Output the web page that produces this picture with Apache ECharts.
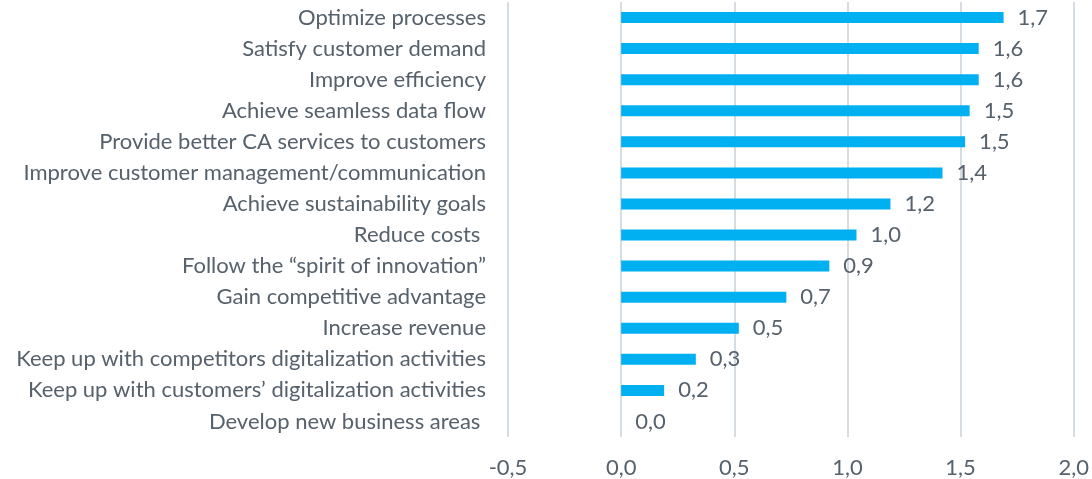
<!DOCTYPE html>
<html style="height: 100%">
<head>
<meta charset="utf-8">
<title>Reasons for digitalization</title>
</head>
<body style="height: 100%; width: 100%; margin: 0">
<div id="container" style="height: 479px; width: 1092px"></div>
<script type="text/javascript" src="https://cdn.jsdelivr.net/npm/echarts@6/dist/echarts.min.js"></script>
<script type="text/javascript">
var categories = [
    'Optimize processes',
    'Satisfy customer demand',
    'Improve efficiency',
    'Achieve seamless data flow',
    'Provide better CA services to customers',
    'Improve customer management/communication',
    'Achieve sustainability goals',
    'Reduce costs ',
    'Follow the \u201cspirit of innovation\u201d',
    'Gain competitive advantage',
    'Increase revenue',
    'Keep up with competitors digitalization activities',
    'Keep up with customers\u2019 digitalization activities',
    'Develop new business areas '
];
var scores = [1.69, 1.58, 1.58, 1.54, 1.52, 1.42, 1.19, 1.04, 0.92, 0.73, 0.52, 0.33, 0.19, 0.0];
var axisMin = -0.5, axisMax = 2.0, axisStep = 0.5;

function comma(v) {
    return Number(v).toFixed(1).replace('.', ',');
}

var textColor = '#56616b';
var font = 'Lato';

var chart = echarts.init(document.getElementById('container'));
var option = {
    animation: false,
    grid: { left: 508, right: 11, top: 2, bottom: 42, containLabel: false },
    xAxis: {
        type: 'value',
        min: axisMin,
        max: axisMax,
        interval: axisStep,
        axisLine: { show: false },
        axisTick: { show: false },
        splitLine: { lineStyle: { color: '#d5dde3', width: 2 } },
        axisLabel: {
            formatter: comma,
            color: textColor,
            fontFamily: font,
            fontSize: 22,
            margin: 20
        }
    },
    yAxis: {
        type: 'category',
        data: categories,
        inverse: true,
        axisLine: { show: false, onZero: false },
        axisTick: { show: false },
        axisLabel: {
            color: textColor,
            fontFamily: font,
            fontSize: 22,
            margin: 22
        }
    },
    series: [{
        type: 'bar',
        data: scores,
        barWidth: 11,
        itemStyle: { color: '#00b0f0' },
        label: {
            show: true,
            position: 'right',
            distance: 14,
            formatter: function (p) { return comma(p.value); },
            color: textColor,
            fontFamily: font,
            fontSize: 22
        }
    }]
};
chart.setOption(option);
</script>
</body>
</html>
